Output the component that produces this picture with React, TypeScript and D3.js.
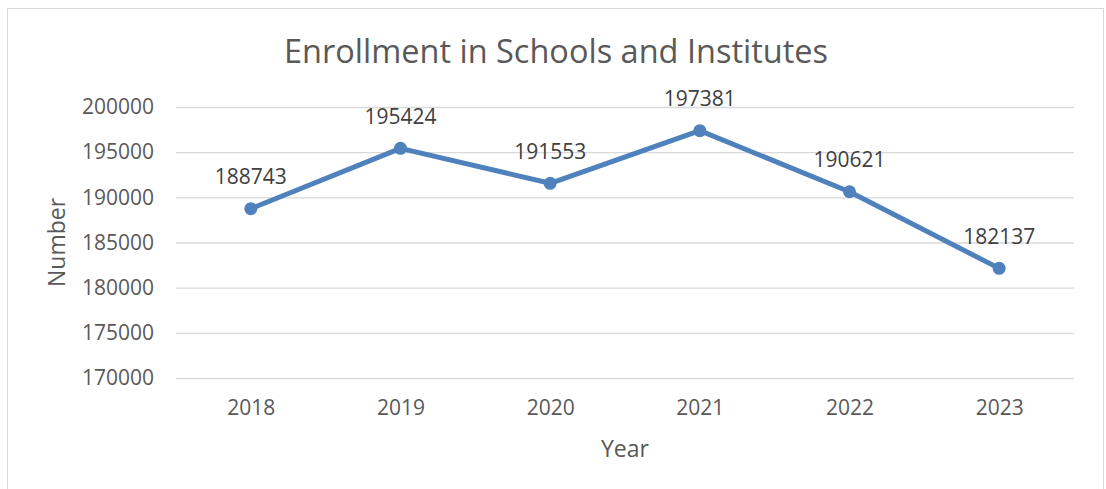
import { useEffect, useRef } from "react";
import * as d3 from "d3";

const years = ["2018", "2019", "2020", "2021", "2022", "2023"];
const enrollment = [188743, 195424, 191553, 197381, 190621, 182137];
const yTicks = [170000, 175000, 180000, 185000, 190000, 195000, 200000];

const chartTitle = "Enrollment in Schools and Institutes";
const xTitle = "Year";
const yTitle = "Number";

const App = () => {
  const ref = useRef<SVGSVGElement>(null);

  useEffect(() => {
    const width = 1106;
    const height = 489;
    const plot = { left: 176, right: 1074, top: 107, bottom: 378 };
    const textColor = "#595959";
    const blue = "#4f81bd";
    const font = "'Open Sans', sans-serif";

    const svg = d3.select(ref.current);
    svg.selectAll("*").remove();
    svg.attr("width", width).attr("height", height).style("font-family", font);

    // cadre du graphique
    svg.append("rect")
      .attr("x", 7.5).attr("y", 8.5)
      .attr("width", 1096).attr("height", 500)
      .attr("fill", "#fff")
      .attr("stroke", "#d9d9d9");

    const x = d3.scalePoint()
      .domain(years)
      .range([plot.left, plot.right])
      .padding(0.5);

    const y = d3.scaleLinear()
      .domain([170000, 200000])
      .range([plot.bottom, plot.top]);

    // lignes de grille + étiquettes Y
    const yAxis = svg.append("g")
      .attr("transform", `translate(${plot.left},0)`)
      .call(d3.axisLeft(y).tickValues(yTicks).tickSize(-(plot.right - plot.left)).tickPadding(22).tickFormat(d => String(d)));
    yAxis.select(".domain").remove();
    yAxis.selectAll(".tick line").attr("stroke", "#d9d9d9").attr("stroke-width", 1.3);
    yAxis.selectAll(".tick text")
      .attr("fill", textColor)
      .style("font-size", "21px")
      .style("font-family", font);

    // étiquettes X
    const xAxis = svg.append("g")
      .attr("transform", `translate(0,${plot.bottom})`)
      .call(d3.axisBottom(x).tickSize(0).tickPadding(22));
    xAxis.select(".domain").remove();
    xAxis.selectAll(".tick text")
      .attr("fill", textColor)
      .style("font-size", "21px")
      .style("font-family", font);

    // ligne
    const line = d3.line<number>()
      .x((_, i) => x(years[i]) as number)
      .y(d => y(d));

    svg.append("path")
      .datum(enrollment)
      .attr("d", line)
      .attr("fill", "none")
      .attr("stroke", blue)
      .attr("stroke-width", 5)
      .attr("stroke-linejoin", "round")
      .attr("stroke-linecap", "round");

    svg.selectAll(".pt")
      .data(enrollment)
      .enter()
      .append("circle")
      .attr("class", "pt")
      .attr("cx", (_, i) => x(years[i]) as number)
      .attr("cy", d => y(d))
      .attr("r", 6.5)
      .attr("fill", blue);

    // étiquettes de données
    svg.selectAll(".lbl")
      .data(enrollment)
      .enter()
      .append("text")
      .attr("class", "lbl")
      .attr("x", (_, i) => x(years[i]) as number)
      .attr("y", d => y(d) - 32)
      .attr("dy", "0.35em")
      .attr("text-anchor", "middle")
      .attr("fill", "#404040")
      .style("font-size", "21px")
      .text(d => d);

    // titres
    svg.append("text")
      .attr("x", 556).attr("y", 52)
      .attr("dy", "0.35em")
      .attr("text-anchor", "middle")
      .attr("fill", textColor)
      .style("font-size", "32.5px")
      .text(chartTitle);

    svg.append("text")
      .attr("x", (plot.left + plot.right) / 2).attr("y", 449)
      .attr("dy", "0.35em")
      .attr("text-anchor", "middle")
      .attr("fill", textColor)
      .style("font-size", "23px")
      .text(xTitle);

    svg.append("text")
      .attr("transform", `translate(57,${(plot.top + plot.bottom) / 2}) rotate(-90)`)
      .attr("dy", "0.35em")
      .attr("text-anchor", "middle")
      .attr("fill", textColor)
      .style("font-size", "23px")
      .text(yTitle);
  }, []);

  return (
    <svg ref={ref} style={{ position: "absolute", left: 0, top: 0, display: "block" }} />
  );
};

export default App;
